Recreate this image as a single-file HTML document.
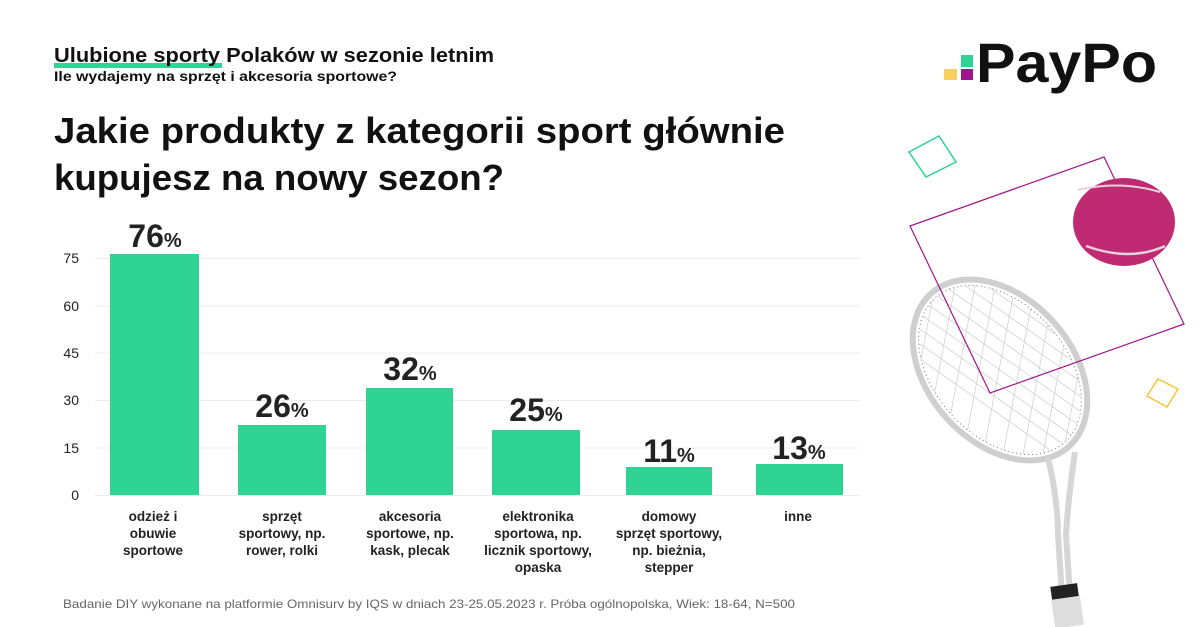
<!DOCTYPE html>
<html><head><meta charset="utf-8"><style>
html,body{margin:0;padding:0;background:#fff;}
svg{display:block;font-family:"Liberation Sans",sans-serif;}
</style></head><body>
<svg width="1200" height="627" viewBox="0 0 1200 627" xmlns="http://www.w3.org/2000/svg">
<rect width="1200" height="627" fill="#fff"/>
<!-- header -->
<rect x="54" y="63" width="168" height="5" fill="#2fd394"/>
<text x="54" y="62" font-size="20" font-weight="bold" fill="#111" textLength="440" lengthAdjust="spacingAndGlyphs">Ulubione sporty Polaków w sezonie letnim</text>
<text x="54" y="81" font-size="14" font-weight="bold" fill="#111" textLength="343" lengthAdjust="spacingAndGlyphs">Ile wydajemy na sprzęt i akcesoria sportowe?</text>
<text x="54" y="143" font-size="36" font-weight="bold" fill="#111" textLength="731" lengthAdjust="spacingAndGlyphs">Jakie produkty z kategorii sport głównie</text>
<text x="54" y="190" font-size="36" font-weight="bold" fill="#111" textLength="450" lengthAdjust="spacingAndGlyphs">kupujesz na nowy sezon?</text>
<!-- grid -->
<g stroke="#ececec" stroke-width="1">
<line x1="95" y1="258.5" x2="860" y2="258.5"/>
<line x1="95" y1="306" x2="860" y2="306"/>
<line x1="95" y1="353" x2="860" y2="353"/>
<line x1="95" y1="400.5" x2="860" y2="400.5"/>
<line x1="95" y1="448" x2="860" y2="448"/>
<line x1="95" y1="495.5" x2="860" y2="495.5"/>
</g>
<g font-size="14" fill="#222" text-anchor="end">
<text x="79" y="263">75</text><text x="79" y="311">60</text><text x="79" y="358">45</text>
<text x="79" y="405">30</text><text x="79" y="453">15</text><text x="79" y="500">0</text>
</g>
<!-- bars -->
<g fill="#2fd394">
<rect x="110" y="254" width="89" height="241"/>
<rect x="238" y="425" width="88" height="70"/>
<rect x="366" y="388" width="87" height="107"/>
<rect x="492" y="430" width="88" height="65"/>
<rect x="626" y="467" width="86" height="28"/>
<rect x="756" y="464" width="87" height="31"/>
</g>
<g font-weight="bold" fill="#222" text-anchor="middle">
<text x="155" y="247" font-size="32">76<tspan font-size="20">%</tspan></text>
<text x="282" y="417" font-size="32">26<tspan font-size="20">%</tspan></text>
<text x="410" y="380" font-size="32">32<tspan font-size="20">%</tspan></text>
<text x="536" y="421" font-size="32">25<tspan font-size="20">%</tspan></text>
<text x="669" y="462" font-size="32">11<tspan font-size="20">%</tspan></text>
<text x="799" y="459" font-size="32">13<tspan font-size="20">%</tspan></text>
</g>
<g font-size="13.5" font-weight="bold" fill="#222" text-anchor="middle">
<text x="153" y="521">odzież i</text><text x="153" y="538">obuwie</text><text x="153" y="555">sportowe</text>
<text x="282" y="521">sprzęt</text><text x="282" y="538">sportowy, np.</text><text x="282" y="555">rower, rolki</text>
<text x="410" y="521">akcesoria</text><text x="410" y="538">sportowe, np.</text><text x="410" y="555">kask, plecak</text>
<text x="538" y="521">elektronika</text><text x="538" y="538">sportowa, np.</text><text x="538" y="555">licznik sportowy,</text><text x="538" y="572">opaska</text>
<text x="669" y="521">domowy</text><text x="669" y="538">sprzęt sportowy,</text><text x="669" y="555">np. bieżnia,</text><text x="669" y="572">stepper</text>
<text x="798" y="521">inne</text>
</g>
<text x="63" y="608" font-size="12" fill="#666" textLength="732" lengthAdjust="spacingAndGlyphs">Badanie DIY wykonane na platformie Omnisurv by IQS w dniach 23-25.05.2023 r. Próba ogólnopolska, Wiek: 18-64, N=500</text>
<!-- logo -->
<rect x="961" y="55" width="12" height="12" fill="#2fd394"/>
<rect x="944" y="69" width="13" height="11" fill="#f8d060"/>
<rect x="961" y="69" width="12" height="11" fill="#a0148c"/>
<text x="976" y="82" font-size="56" font-weight="bold" fill="#111" textLength="181" lengthAdjust="spacingAndGlyphs">PayPo</text>
<!-- decorations -->
<polygon points="939,136 956,162 926,177 909,152" fill="none" stroke="#2fd394" stroke-width="1.5"/>
<polygon points="1158,379 1178,389 1167,407 1147,396" fill="none" stroke="#f5c33b" stroke-width="1.5"/>
<!-- racket -->
<g fill="none" stroke="#cfcfcf">
<ellipse cx="1000" cy="370" rx="72" ry="103" transform="rotate(-42 1000 370)" stroke-width="6"/>
<g stroke="#bbb" stroke-width="0.7" clip-path="url(#hc)">
</g>
<ellipse cx="1000" cy="370" rx="66" ry="97" transform="rotate(-42 1000 370)" stroke-width="1" stroke="#777" stroke-dasharray="1 3"/>
<path d="M1048,458 Q1058,500 1058,535 L1062,595 M1075,452 Q1068,500 1066,535 L1070,595" stroke-width="6" stroke="#d6d6d6"/>
</g>
<defs><clipPath id="hc"><ellipse cx="1000" cy="370" rx="66" ry="97" transform="rotate(-42 1000 370)"/></clipPath></defs>
<g stroke="#ccc" stroke-width="0.7" clip-path="url(#hc)">
<path d="M900,300 L1100,440 M900,315 L1100,455 M900,285 L1100,425 M900,270 L1100,410 M900,255 L1100,395 M900,330 L1100,470 M900,240 L1100,380 M900,225 L1100,365 M900,345 L1100,485"/>
<path d="M940,260 L900,470 M960,260 L920,470 M980,260 L940,470 M1000,260 L960,470 M1020,260 L980,470 M1040,260 L1000,470 M1060,260 L1020,470 M1080,260 L1040,470 M1100,260 L1060,470"/>
</g>
<polygon points="1104,157 1184,324 990,393 910,226" fill="none" stroke="#a0148c" stroke-width="1.2"/>
<ellipse cx="1124" cy="222" rx="51" ry="44" fill="#c02a72"/>
<path d="M1078,190 Q1120,180 1160,192" stroke="#e8d0dc" stroke-width="2" fill="none"/>
<path d="M1086,246 Q1130,262 1165,246" stroke="#e8d0dc" stroke-width="2.5" fill="none"/>
<rect x="1051" y="585" width="27" height="13" fill="#222" transform="rotate(-8 1064 591)"/>
<rect x="1053" y="598" width="29" height="29" fill="#ddd" transform="rotate(-8 1066 612)"/>
</svg>
</body></html>
